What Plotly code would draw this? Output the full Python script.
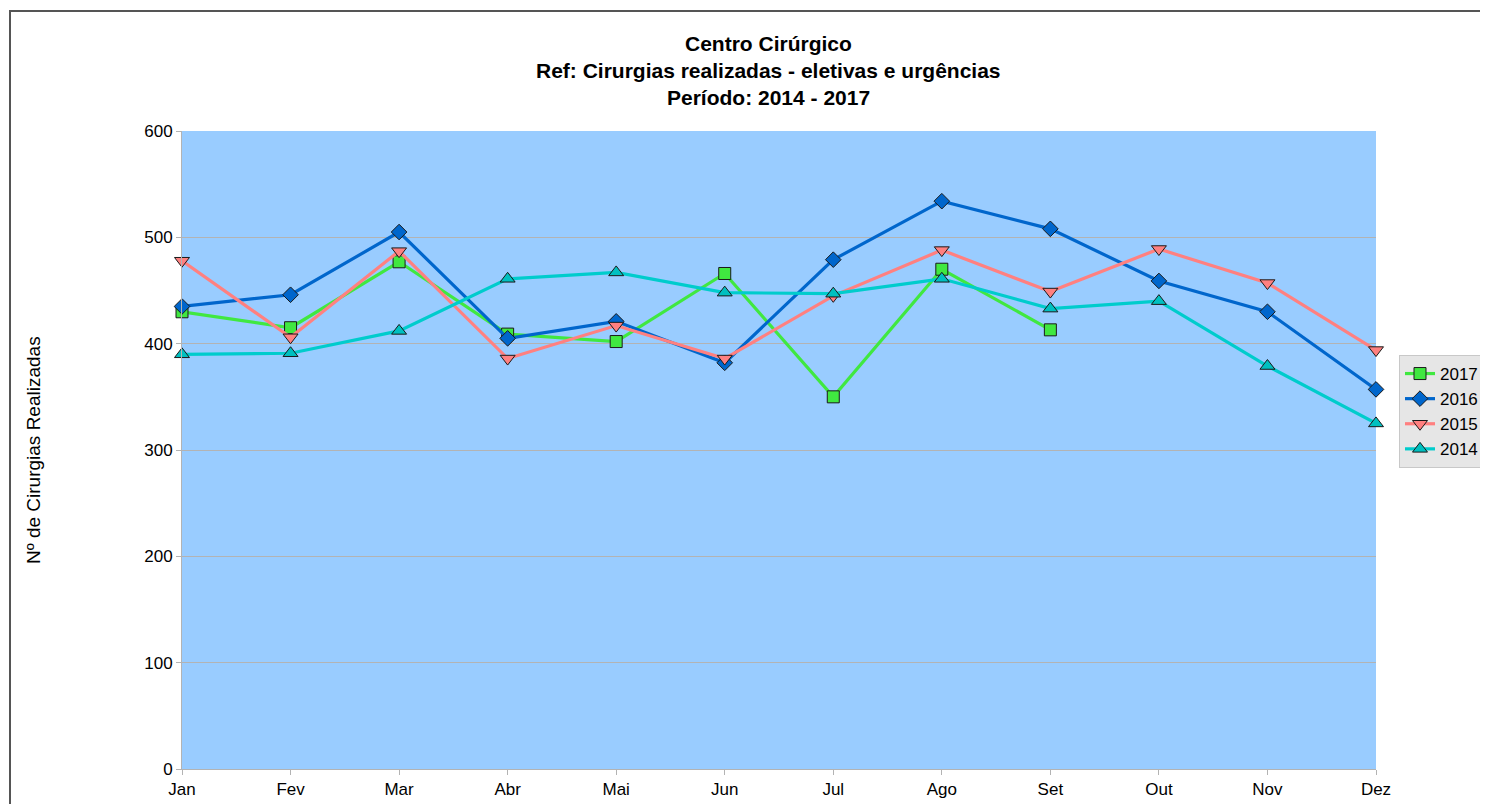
import plotly.graph_objects as go

months = ["Jan", "Fev", "Mar", "Abr", "Mai", "Jun", "Jul", "Ago", "Set", "Out", "Nov", "Dez"]

v2017 = [430, 415, 477, 409, 402, 466, 350, 470, 413, None, None, None]
v2016 = [435, 446, 505, 405, 421, 382, 479, 534, 508, 459, 430, 357]
v2015 = [478, 406, 487, 386, 417, 386, 445, 488, 449, 489, 457, 394]
v2014 = [390, 391, 412, 461, 467, 448, 447, 461, 433, 440, 379, 325]

series_names = ["2017", "2016", "2015", "2014"]
series_values = [v2017, v2016, v2015, v2014]
line_colors = ["#40e840", "#0066cc", "#ff8080", "#00cccc"]
marker_colors = ["#40e840", "#0066cc", "#ff8080", "#00c0c0"]
symbols = ["square", "diamond", "triangle-down", "triangle-up"]
sizes = [12, 12, 13, 13]

title_lines = ["Centro Cirúrgico", "Ref: Cirurgias realizadas - eletivas e urgências", "Período: 2014 - 2017"]
y_title = "Nº de Cirurgias Realizadas"

FONT = "Liberation Sans, Arial, sans-serif"

# page has an 8px body margin at top/left
OFF = 8
W, H = 1488 - OFF, 804 - OFF
L, R, T, B = 182 - OFF, 1376 - OFF, 131 - OFF, 769 - OFF

fig = go.Figure()
for name, vals, lc, mc, sym, sz in zip(series_names, series_values, line_colors, marker_colors, symbols, sizes):
    fig.add_trace(go.Scatter(
        x=months, y=vals, name=name, mode="lines+markers",
        line=dict(color=lc, width=3.2),
        marker=dict(symbol=sym, size=sz, color=mc, line=dict(color="#1a1a1a", width=1)),
        cliponaxis=False,
    ))

def px_x(p):
    return (p - OFF - L) / (R - L)

def px_y(p):
    return (B - (p - OFF)) / (B - T)

fig.update_layout(
    width=W, height=H,
    margin=dict(l=L, r=W - R, t=T, b=H - B, autoexpand=False),
    paper_bgcolor="white",
    plot_bgcolor="#99ccff",
    font=dict(family=FONT, size=17, color="black"),
    xaxis=dict(
        type="category", categoryorder="array", categoryarray=months,
        range=[0, 11], showgrid=False, zeroline=False, automargin=False,
        showline=True, linecolor="#b3b3b3", linewidth=1,
        ticks="outside", ticklen=5, tickcolor="#b3b3b3",
        tickfont=dict(size=17),
    ),
    yaxis=dict(
        range=[0, 600], dtick=100, tick0=0, automargin=False,
        showgrid=True, gridcolor="#b3b3b3", gridwidth=1,
        zeroline=False, showline=True, linecolor="#b3b3b3", linewidth=1,
        ticks="outside", ticklen=5, tickcolor="#b3b3b3",
        tickfont=dict(size=17),
    ),
    legend=dict(
        x=px_x(1399), xanchor="left",
        y=px_y(355), yanchor="top",
        bgcolor="#e6e6e6", bordercolor="#c8c8c8", borderwidth=1,
        font=dict(size=17), traceorder="normal",
    ),
    showlegend=True,
)

for text, yc in zip(title_lines, [44, 71, 97]):
    fig.add_annotation(
        text="<b>%s</b>" % text, xref="paper", yref="paper",
        x=px_x(768), y=px_y(yc), xanchor="center", yanchor="middle",
        showarrow=False, font=dict(size=21, family=FONT, color="black"),
    )

fig.add_annotation(
    text=y_title, textangle=-90,
    xref="paper", yref="paper",
    x=px_x(33), y=0.5, xanchor="center", yanchor="middle",
    showarrow=False, font=dict(size=19),
)

# outer chart frame (left and top edges visible)
fig.add_shape(
    type="rect", xref="paper", yref="paper",
    x0=px_x(10), x1=px_x(1488 + 40),
    y0=px_y(804 + 40), y1=px_y(11),
    line=dict(color="#555555", width=2), fillcolor="rgba(0,0,0,0)", layer="above",
)

fig.write_html("out.html")
